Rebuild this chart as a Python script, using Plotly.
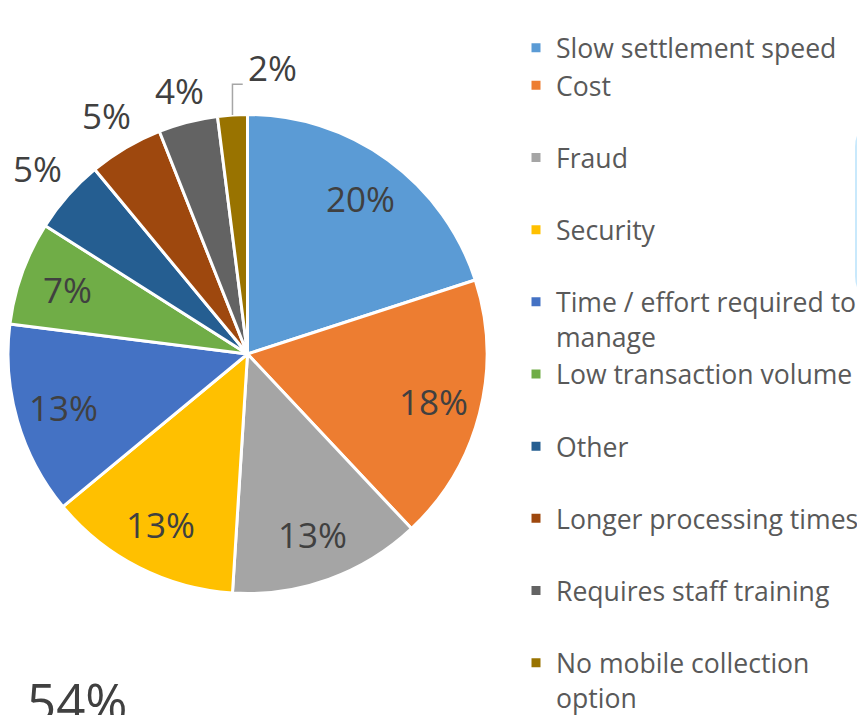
import math
import plotly.graph_objects as go

W, H = 865, 715
OFF = 8  # page body margin offset (screen = figure + OFF)

categories = [
    "Slow settlement speed",
    "Cost",
    "Fraud",
    "Security",
    "Time / effort required to manage",
    "Low transaction volume",
    "Other",
    "Longer processing times",
    "Requires staff training",
    "No mobile collection option",
]
values = [20, 18, 13, 13, 13, 7, 5, 5, 4, 2]
colors = ["#5B9BD5", "#ED7D31", "#A5A5A5", "#FFC000", "#4472C4",
          "#70AD47", "#255E91", "#9E480E", "#636363", "#997300"]
legend_text = [
    "Slow settlement speed",
    "Cost<br>&nbsp;",
    "Fraud<br>&nbsp;",
    "Security<br>&nbsp;",
    "Time / effort required to<br>manage",
    "Low transaction volume<br>&nbsp;",
    "Other<br>&nbsp;",
    "Longer processing times<br>&nbsp;",
    "Requires staff training<br>&nbsp;",
    "No mobile collection<br>option",
]
label_inside = [True] * 6 + [False] * 4
label_shift = {9: (42, -20)}  # label moved aside with a leader line

FONT = "Open Sans"
LABEL_SIZE = 35
TEXT_DARK = "#404040"


def px(sx):
    return (sx - OFF) / W


def py(sy):
    return 1 - (sy - OFF) / H


# pie geometry in screen pixels
cx, cy, r = 247.5, 354, 239.5

fig = go.Figure()
fig.add_trace(go.Pie(
    labels=legend_text,
    values=values,
    sort=False,
    direction="clockwise",
    rotation=0,
    marker=dict(colors=colors, line=dict(color="white", width=3)),
    textinfo="none",
    domain=dict(x=[px(cx - r), px(cx + r)], y=[py(cy + r), py(cy - r)]),
    automargin=False,
    hoverinfo="label+percent",
))

# data labels, placed from the slice mid-angles
total = sum(values)
cum = 0.0
hw, hh, gap = 27, 16, 10
for i, v in enumerate(values):
    mid = (cum + v / 2) / total * 2 * math.pi
    cum += v
    dx, dy = math.sin(mid), -math.cos(mid)
    if label_inside[i]:
        d = 0.8 * r
    else:
        d = r + gap + abs(dx) * hw + abs(dy) * hh
    lx, ly = cx + d * dx, cy + d * dy
    if i in label_shift:
        sx_, sy_ = label_shift[i]
        ex, ey = cx + r * dx, cy + r * dy
        lx, ly = lx + sx_, ly + sy_
        by = ly + 17
        fig.add_shape(type="path", xref="paper", yref="paper",
                      path=f"M{px(ex)},{py(ey)} L{px(ex)},{py(by)} L{px(lx - hw - 3)},{py(by)}",
                      line=dict(color="#A6A6A6", width=1.5))
    fig.add_annotation(text=f"{v}%", x=px(lx), y=py(ly), xref="paper", yref="paper",
                       xanchor="center", yanchor="middle", showarrow=False,
                       font=dict(family=FONT, size=LABEL_SIZE, color=TEXT_DARK))

# cropped rounded box on the right edge
x0, x1, y0, y1, rr = 855, 900, 125, 298, 22
path = (f"M{px(x0)},{py(y0 + rr)} Q{px(x0)},{py(y0)} {px(x0 + rr)},{py(y0)} "
        f"L{px(x1)},{py(y0)} L{px(x1)},{py(y1)} L{px(x0 + rr)},{py(y1)} "
        f"Q{px(x0)},{py(y1)} {px(x0)},{py(y1 - rr)} Z")
fig.add_shape(type="path", path=path, xref="paper", yref="paper",
              fillcolor="#C9E9FC", line=dict(width=0), layer="below")

fig.add_annotation(text="54%", x=px(25), y=py(664), xref="paper", yref="paper",
                   xanchor="left", yanchor="top", showarrow=False,
                   font=dict(family=FONT, size=51, color=TEXT_DARK))

fig.update_layout(
    width=W, height=H,
    margin=dict(l=0, r=0, t=0, b=0),
    paper_bgcolor="white",
    plot_bgcolor="white",
    showlegend=True,
    legend=dict(
        x=px(516), y=py(24), xanchor="left", yanchor="top",
        font=dict(family=FONT, size=26.6, color="#595959"),
        valign="top",
        traceorder="normal",
        bgcolor="rgba(0,0,0,0)",
    ),
)

fig.write_html("out.html")
